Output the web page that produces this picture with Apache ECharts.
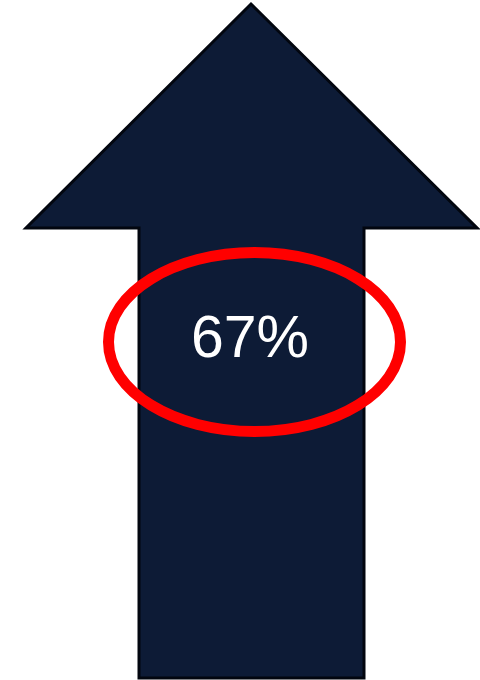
<!DOCTYPE html>
<html>
<head>
<meta charset="utf-8">
<style>html,body{margin:0;padding:0;background:#fff}#c{width:480px;height:680px}</style>
<script src="https://cdn.jsdelivr.net/npm/echarts@6/dist/echarts.min.js"></script>
</head>
<body>
<div id="c"></div>
<script>
// Data
var labels = ['67%'];
var values = [67];

var chart = echarts.init(document.getElementById('c'), null, {renderer: 'canvas'});

// Arrow shape layout (pixels)
var tipX = 251, tipY = 4, headY = 228, headL = 26, headR = 477, shaftL = 139, shaftR = 364, bottomY = 678;
var arrowPts = [[tipX, tipY], [headR, headY], [shaftR, headY], [shaftR, bottomY], [shaftL, bottomY], [shaftL, headY], [headL, headY]];

chart.setOption({
  animation: false,
  backgroundColor: '#ffffff',
  graphic: [
    {
      type: 'polygon',
      shape: {points: arrowPts},
      style: {fill: '#0d1b36', stroke: '#02060f', lineWidth: 3, lineJoin: 'miter'}
    },
    {
      type: 'ellipse',
      shape: {cx: 254.5, cy: 342, rx: 146, ry: 89.5},
      style: {fill: null, stroke: '#ff0000', lineWidth: 11}
    },
    {
      type: 'text',
      x: 250, y: 341,
      style: {
        text: labels[0],
        fill: '#ffffff',
        font: '59px "Liberation Sans", Arial, sans-serif',
        textAlign: 'center',
        textVerticalAlign: 'middle'
      }
    }
  ]
});
</script>
</body>
</html>
